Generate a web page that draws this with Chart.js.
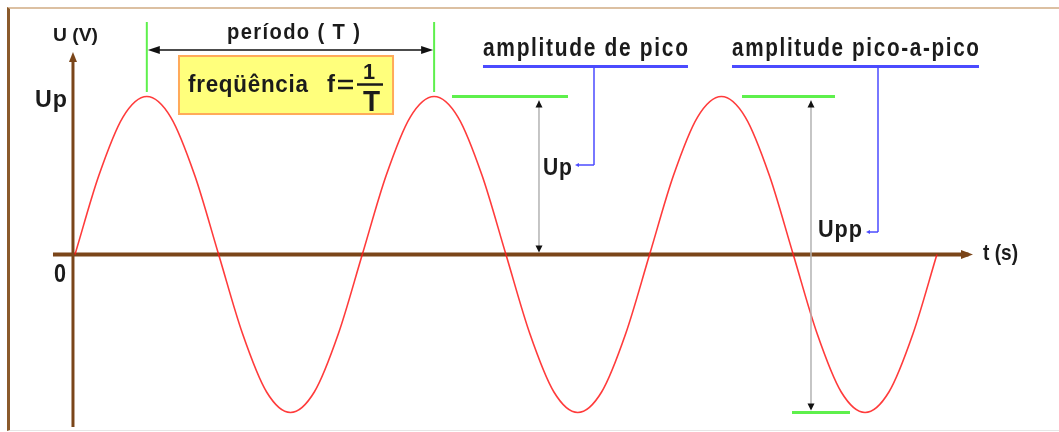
<!DOCTYPE html>
<html>
<head>
<meta charset="utf-8">
<script src="https://cdn.jsdelivr.net/npm/chart.js@4.4.0/dist/chart.umd.min.js"></script>
<style>
  html, body { margin: 0; padding: 0; background: #fff; }
  #wrap { position: relative; width: 1059px; height: 432px; overflow: hidden; }
  #frame { position: absolute; left: 7px; top: 7px; right: -4px; bottom: 1px;
           border-left: 3px solid #8b5a2b; border-top: 2px solid #dcc0a2; border-bottom: 1px solid #e6e6e6; }
  canvas { position: absolute; left: 0; top: 0; }
</style>
</head>
<body>
<div id="wrap">
  <div id="frame"></div>
  <canvas id="waveChart" width="1059" height="432"></canvas>
</div>
<script>
// time in periods (T = 1), voltage in units of Up
const timeValues = [
  0, 0.083, 0.167, 0.25, 0.333, 0.417, 0.5, 0.583, 0.667, 0.75, 0.833, 0.917,
  1, 1.083, 1.167, 1.25, 1.333, 1.417, 1.5, 1.583, 1.667, 1.75, 1.833, 1.917,
  2, 2.083, 2.167, 2.25, 2.333, 2.417, 2.5, 2.583, 2.667, 2.75, 2.833, 2.917,
  3
];
const voltageValues = [
  0, 0.5, 0.87, 1, 0.87, 0.5, 0, -0.5, -0.87, -1, -0.87, -0.5,
  0, 0.5, 0.87, 1, 0.87, 0.5, 0, -0.5, -0.87, -1, -0.87, -0.5,
  0, 0.5, 0.87, 1, 0.87, 0.5, 0, -0.5, -0.87, -1, -0.87, -0.5,
  0
];
const axisLabels = ['U (V)', 't (s)', '0', 'Up'];
const notes = ['período ( T )', 'freqüência', 'amplitude de pico', 'amplitude pico-a-pico', 'Up', 'Upp'];

const FONT = '"Liberation Sans", Arial, sans-serif';

function seg(ctx, x1, y1, x2, y2, color, width) {
    ctx.beginPath();
    ctx.moveTo(x1, y1);
    ctx.lineTo(x2, y2);
    ctx.strokeStyle = color;
    ctx.lineWidth = width;
    ctx.stroke();
}

function head(ctx, x, y, angle, len, half, color) {
    ctx.save();
    ctx.translate(x, y);
    ctx.rotate(angle);
    ctx.beginPath();
    ctx.moveTo(0, 0);
    ctx.lineTo(-len, -half);
    ctx.lineTo(-len, half);
    ctx.closePath();
    ctx.fillStyle = color;
    ctx.fill();
    ctx.restore();
}

// text squeezed/stretched between two x positions
function label(ctx, str, x1, x2, yb, size, spacing) {
    ctx.save();
    ctx.font = 'bold ' + size + 'px ' + FONT;
    ctx.letterSpacing = (spacing || 0) + 'px';
    ctx.textAlign = 'left';
    ctx.textBaseline = 'alphabetic';
    ctx.fillStyle = '#1b1b1b';
    const w = ctx.measureText(str).width - (spacing || 0);
    ctx.translate(x1, yb);
    ctx.scale((x2 - x1) / w, 1);
    ctx.fillText(str, 0, 0);
    ctx.restore();
}

const diagram = {
    id: 'diagram',
    beforeDatasetsDraw(chart) {
        const ctx = chart.ctx;
        const X = v => chart.scales.x.getPixelForValue(v);
        const Y = v => chart.scales.y.getPixelForValue(v);
        const brown = '#7a4519';
        // time axis
        seg(ctx, X(-0.0766), Y(0), X(3.11), Y(0), brown, 4);
        head(ctx, X(3.1256), Y(0), 0, 12, 4.5, brown);
        // voltage axis
        seg(ctx, X(-0.007), Y(-1.0918), X(-0.007), Y(1.25), brown, 3);
        head(ctx, X(-0.007), Y(1.2816), -Math.PI / 2, 10, 4, brown);
    },
    afterDatasetsDraw(chart) {
        const ctx = chart.ctx;
        const X = v => chart.scales.x.getPixelForValue(v);
        const Y = v => chart.scales.y.getPixelForValue(v);
        const green = '#5ef04c', blue = '#4b4bff', gray = '#b3b3b3';

        // period marker
        seg(ctx, X(0.25), Y(1.4715), X(0.25), Y(1.0285), green, 2);
        seg(ctx, X(1.25), Y(1.4715), X(1.25), Y(1.0285), green, 2);
        seg(ctx, X(0.25) + 8, Y(1.2943), X(1.25) - 8, Y(1.2943), '#111', 1.5);
        head(ctx, X(0.25) + 1, Y(1.2943), Math.PI, 12, 4, '#111');
        head(ctx, X(1.25) - 1, Y(1.2943), 0, 12, 4, '#111');
        label(ctx, notes[0], X(0.5291), X(0.992), Y(1.3639), 22, 1.5);

        // frequency box
        const bx1 = X(0.362), bx2 = X(1.107), by1 = Y(1.2563), by2 = Y(0.8892);
        ctx.fillStyle = '#ffff7c';
        ctx.fillRect(bx1, by1, bx2 - bx1, by2 - by1);
        ctx.strokeStyle = '#ffaa5a';
        ctx.lineWidth = 2;
        ctx.strokeRect(bx1, by1, bx2 - bx1, by2 - by1);
        label(ctx, notes[1], X(0.3933), X(0.811), Y(1.0285), 24, 0.8);
        label(ctx, 'f', X(0.8771), X(0.9049), Y(1.0285), 24);
        seg(ctx, X(0.9154), Y(1.0981), X(0.9676), Y(1.0981), '#1b1b1b', 2.5);
        seg(ctx, X(0.9154), Y(1.0538), X(0.9676), Y(1.0538), '#1b1b1b', 2.5);
        seg(ctx, X(0.9815), Y(1.0759), X(1.072), Y(1.0759), '#1b1b1b', 2.5);
        label(ctx, '1', X(1.0021), X(1.0442), Y(1.1108), 22);
        label(ctx, 'T', X(1.0021), X(1.0616), Y(0.9082), 29);

        // peak level marks
        seg(ctx, X(1.3122), Y(1), X(1.716), Y(1), green, 3);
        seg(ctx, X(2.3216), Y(1), X(2.6453), Y(1), green, 3);
        seg(ctx, X(2.4957), Y(-1), X(2.6975), Y(-1), green, 3);

        // Up and Upp measuring arrows
        seg(ctx, X(1.615), Y(1) + 4, X(1.615), Y(0) - 4, gray, 1.5);
        head(ctx, X(1.615), Y(1) + 4, -Math.PI / 2, 7, 3.5, '#111');
        head(ctx, X(1.615), Y(0) - 2, Math.PI / 2, 7, 3.5, '#111');
        seg(ctx, X(2.5618), Y(1) + 4, X(2.5618), Y(-1) - 4, gray, 1.5);
        head(ctx, X(2.5618), Y(1) + 4, -Math.PI / 2, 7, 3.5, '#111');
        head(ctx, X(2.5618), Y(-1) - 2, Math.PI / 2, 7, 3.5, '#111');

        // callouts
        label(ctx, notes[2], X(1.4201), X(2.1336), Y(1.2563), 25, 2);
        seg(ctx, X(1.4201), Y(1.19), X(2.1336), Y(1.19), blue, 3);
        seg(ctx, X(1.8065), Y(1.19), X(1.8065), Y(0.5665), blue, 1.5);
        seg(ctx, X(1.8065), Y(0.5665), X(1.7403) + 3, Y(0.5665), blue, 1.5);
        head(ctx, X(1.7403), Y(0.5665), Math.PI, 4, 2, blue);
        label(ctx, notes[4], X(1.6289), X(1.7299), Y(0.5032), 23, 1);

        label(ctx, notes[3], X(2.2868), X(3.1465), Y(1.2563), 25, 2);
        seg(ctx, X(2.2868), Y(1.19), X(3.1465), Y(1.19), blue, 3);
        seg(ctx, X(2.795), Y(1.19), X(2.795), Y(0.1424), blue, 1.5);
        seg(ctx, X(2.795), Y(0.1424), X(2.7532) + 3, Y(0.1424), blue, 1.5);
        head(ctx, X(2.7532), Y(0.1424), Math.PI, 4, 2, blue);
        label(ctx, notes[5], X(2.5862), X(2.7393), Y(0.1108), 23, 1);

        // axis labels
        label(ctx, axisLabels[0], X(-0.0766), X(0.0801), Y(1.3513), 19);
        label(ctx, axisLabels[1], X(3.1605), X(3.2823), Y(-0.0348), 22);
        label(ctx, axisLabels[2], X(-0.0731), X(-0.0313), Y(-0.1741), 25);
        label(ctx, axisLabels[3], X(-0.1392), X(-0.0278), Y(0.9335), 23, 1);
    }
};

new Chart(document.getElementById('waveChart'), {
    type: 'line',
    data: {
        datasets: [{
            data: timeValues.map((t, i) => ({ x: t, y: voltageValues[i] })),
            borderColor: 'rgba(255, 25, 25, 0.85)',
            borderWidth: 1.6,
            pointRadius: 0,
            fill: false,
            cubicInterpolationMode: 'monotone'
        }]
    },
    options: {
        responsive: false,
        animation: false,
        layout: { padding: 0 },
        plugins: {
            legend: { display: false },
            tooltip: { enabled: false }
        },
        scales: {
            x: { type: 'linear', min: -0.261, max: 3.425, display: false },
            y: { min: -1.1234, max: 1.6108, display: false }
        }
    },
    plugins: [diagram]
});
</script>
</body>
</html>
